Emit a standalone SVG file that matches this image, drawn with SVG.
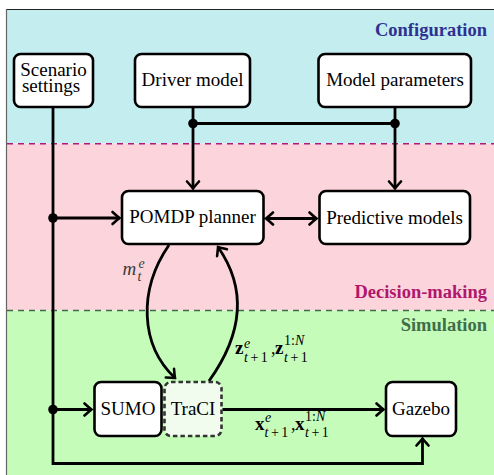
<svg xmlns="http://www.w3.org/2000/svg" width="494" height="475" viewBox="0 0 494 475">
<defs>
<style>
.box{fill:#fff;stroke:#000;stroke-width:2.6}
.lbl{font-family:"Liberation Serif",serif;font-size:19px;fill:#000;text-anchor:middle}
.band{font-family:"Liberation Serif",serif;font-size:18.5px;font-weight:bold;text-anchor:end}
.conn{fill:none;stroke:#000;stroke-width:2.8}
.mb{font-family:"Liberation Serif",serif;font-weight:bold;font-size:19px}
.mi{font-family:"Liberation Serif",serif;font-style:italic;font-size:14px}
.ms{font-family:"Liberation Serif",serif;font-size:14px}
.up{font-style:normal}
.mr{font-family:"Liberation Serif",serif;font-size:18px}
</style>
<marker id="ar" viewBox="-10 -8 12 16" markerWidth="12" markerHeight="16" refX="0" refY="0" orient="auto" markerUnits="userSpaceOnUse">
<path d="M -7 -6 Q -2 -1.5 0 0 Q -2 1.5 -7 6" fill="none" stroke="#000" stroke-width="2.6" stroke-linecap="round"/>
</marker>
<marker id="arS" viewBox="-2 -8 12 16" markerWidth="12" markerHeight="16" refX="0" refY="0" orient="auto" markerUnits="userSpaceOnUse">
<path d="M 7 -6 Q 2 -1.5 0 0 Q 2 1.5 7 6" fill="none" stroke="#000" stroke-width="2.6" stroke-linecap="round"/>
</marker>
</defs>
<rect x="0" y="0" width="494" height="475" fill="#fff"/>
<g id="bands">
<rect x="6.5" y="9.5" width="490" height="134" fill="#c4edf0" stroke="none"/>
<rect x="6.5" y="143.5" width="490" height="167" fill="#fcd5dc"/>
<rect x="6.5" y="310.5" width="490" height="170" fill="#c6fcba"/>
<line x1="6.5" y1="9.5" x2="494" y2="9.5" stroke="#222" stroke-width="1.2"/>
<line x1="6.5" y1="9" x2="6.5" y2="475" stroke="#666" stroke-width="1.2"/>
<line x1="7" y1="143.8" x2="494" y2="143.8" stroke="#b0187a" stroke-width="1.4" stroke-dasharray="6 5"/>
<line x1="7" y1="310.5" x2="494" y2="310.5" stroke="#3d6b4a" stroke-width="1.4" stroke-dasharray="6 5"/>
<text class="band" x="487" y="35.5" fill="#2e3192">Configuration</text>
<text class="band" x="487" y="298" fill="#b0176e">Decision-making</text>
<text class="band" x="487" y="331" fill="#3e6e4a">Simulation</text>
</g>
<g id="connectors">
<path class="conn" d="M 53 107 V 463.5 H 422.5 V 438.5" marker-end="url(#ar)"/>
<path class="conn" d="M 53 218 H 119.5" marker-end="url(#ar)"/>
<path class="conn" d="M 53 409.5 H 91.5" marker-end="url(#ar)"/>
<path class="conn" d="M 193 107 V 188.5" marker-end="url(#ar)"/>
<path class="conn" d="M 395 107 V 188.5" marker-end="url(#ar)"/>
<path class="conn" d="M 193 123.5 H 395"/>
<circle cx="193" cy="123.5" r="4.8"/>
<circle cx="395" cy="123.5" r="4.8"/>
<circle cx="53" cy="218" r="4.8"/>
<circle cx="53" cy="409.5" r="4.8"/>
<path class="conn" d="M 266 218.5 H 316.5" marker-start="url(#arS)" marker-end="url(#ar)"/>
<path class="conn" d="M 222.5 409.5 H 383.5" marker-end="url(#ar)"/>
<path class="conn" d="M 169 245 C 138 290, 140 345, 175 378" marker-end="url(#ar)"/>
<path class="conn" d="M 209 381 C 242 335, 248 290, 218 247" marker-end="url(#ar)"/>
<g id="lbl-m" fill="#3a3a3a">
<text x="122.5" y="275" font-family="Liberation Serif,serif" font-style="italic" font-size="19">m</text>
<text x="138.5" y="267.5" class="mi">e</text>
<text x="137.5" y="281" class="mi">t</text>
</g>
<g id="lbl-z">
<text x="235" y="354" class="mb">z</text>
<text x="244" y="348" class="mi">e</text>
<text x="244" y="362" class="mi" word-spacing="-1">t <tspan class="up">+ 1</tspan></text>
<text x="271" y="354" class="mr">,</text>
<text x="275" y="354" class="mb">z</text>
<text x="284" y="345" class="ms">1:<tspan font-style="italic">N</tspan></text>
<text x="284" y="362" class="mi" word-spacing="-1">t <tspan class="up">+ 1</tspan></text>
</g>
<g id="lbl-x">
<text x="255" y="429.5" class="mb">x</text>
<text x="265" y="422" class="mi">e</text>
<text x="264.5" y="437" class="mi" word-spacing="-1">t <tspan class="up">+ 1</tspan></text>
<text x="291" y="429.5" class="mr">,</text>
<text x="295" y="429.5" class="mb">x</text>
<text x="305" y="421" class="ms">1:<tspan font-style="italic">N</tspan></text>
<text x="305" y="437" class="mi" word-spacing="-1">t <tspan class="up">+ 1</tspan></text>
</g>
</g>
<g id="scenario">
<rect class="box" x="14" y="54" width="79" height="53" rx="6.5"/>
<text class="lbl" x="53.5" y="75.5">Scenario</text>
<text class="lbl" x="51" y="92">settings</text>
</g>
<g id="driver">
<rect class="box" x="135" y="54" width="115" height="53" rx="6.5"/>
<text class="lbl" x="192.5" y="86">Driver model</text>
</g>
<g id="params">
<rect class="box" x="318.5" y="54" width="152.5" height="53" rx="6.5"/>
<text class="lbl" x="395" y="86">Model parameters</text>
</g>
<g id="pomdp">
<rect class="box" x="122" y="191" width="141.5" height="53" rx="6.5"/>
<text class="lbl" x="192.5" y="222.5">POMDP planner</text>
</g>
<g id="predictive">
<rect class="box" x="319.5" y="191" width="150.5" height="53" rx="6.5"/>
<text class="lbl" x="394.5" y="224">Predictive models</text>
</g>
<g id="sumo">
<rect class="box" x="94.5" y="382" width="67" height="54" rx="6.5"/>
<text class="lbl" x="128" y="415">SUMO</text>
</g>
<g id="traci">
<rect x="164.5" y="382" width="57" height="54" rx="6.5" fill="#f1fcee" stroke="#333" stroke-width="2.6" stroke-dasharray="4.5 3"/>
<text class="lbl" x="193" y="415">TraCI</text>
</g>
<g id="gazebo">
<rect class="box" x="386" y="382" width="70" height="54" rx="6.5"/>
<text class="lbl" x="421" y="415">Gazebo</text>
</g>
</svg>
